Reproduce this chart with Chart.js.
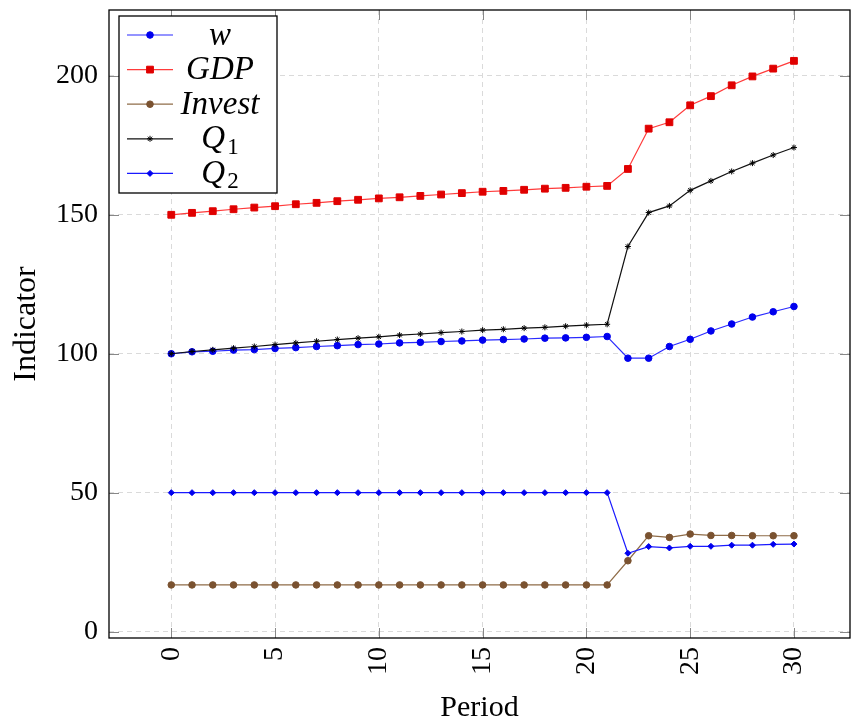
<!DOCTYPE html>
<html>
<head>
<meta charset="utf-8">
<script src="https://cdn.jsdelivr.net/npm/chart.js@4.4.1/dist/chart.umd.min.js"></script>
<style>
  html, body { margin: 0; padding: 0; background: #fff; }
  #wrap { width: 851px; height: 727px; }
</style>
</head>
<body>
<div id="wrap"><canvas id="chart" width="851" height="727"></canvas></div>
<script>
// values
const periods = [0, 1, 2, 3, 4, 5, 6, 7, 8, 9, 10, 11, 12, 13, 14, 15, 16, 17, 18, 19, 20, 21, 22, 23, 24, 25, 26, 27, 28, 29, 30];
const wValues = [100, 100.7, 100.9, 101.3, 101.5, 101.9, 102.2, 102.6, 102.9, 103.3, 103.5, 103.9, 104.1, 104.4, 104.6, 104.9, 105.1, 105.3, 105.6, 105.7, 105.9, 106.2, 98.4, 98.4, 102.6, 105.2, 108.2, 110.7, 113.2, 115.1, 117.0];
const gdpValues = [150, 150.7, 151.3, 152.0, 152.6, 153.1, 153.8, 154.3, 154.9, 155.4, 155.9, 156.3, 156.8, 157.3, 157.8, 158.3, 158.6, 159.0, 159.4, 159.7, 160.1, 160.4, 166.5, 181.0, 183.3, 189.4, 192.7, 196.6, 199.8, 202.6, 205.4];
const investValues = [16.8, 16.8, 16.8, 16.8, 16.8, 16.8, 16.8, 16.8, 16.8, 16.8, 16.8, 16.8, 16.8, 16.8, 16.8, 16.8, 16.8, 16.8, 16.8, 16.8, 16.8, 16.8, 25.5, 34.5, 33.9, 35.1, 34.6, 34.6, 34.5, 34.5, 34.5];
const q1Values = [100, 100.8, 101.4, 102.0, 102.6, 103.3, 103.9, 104.5, 105.1, 105.6, 106.1, 106.7, 107.1, 107.6, 108.0, 108.5, 108.8, 109.2, 109.5, 109.9, 110.3, 110.6, 138.6, 150.8, 153.2, 158.8, 162.2, 165.6, 168.6, 171.5, 174.2];
const q2Values = [50, 50, 50, 50, 50, 50, 50, 50, 50, 50, 50, 50, 50, 50, 50, 50, 50, 50, 50, 50, 50, 50, 28.2, 30.6, 30.1, 30.7, 30.7, 31.1, 31.1, 31.4, 31.5];

const xTicks = [0, 5, 10, 15, 20, 25, 30];
const yTicks = [0, 50, 100, 150, 200];

const seriesNames = ['w', 'GDP', 'Invest', 'Q', 'Q'];
const seriesSubs = ['', '', '', '1', '2'];

const SERIF = "'Liberation Serif', 'DejaVu Serif', serif";
Chart.defaults.font.family = SERIF;
Chart.defaults.color = '#000';

function toPoints(vals) {
  return periods.map((p, i) => ({ x: p, y: vals[i] }));
}

function series(i, vals, line, point, style, radius, order) {
  return {
    label: seriesNames[i],
    sub: seriesSubs[i],
    data: toPoints(vals),
    borderColor: line,
    backgroundColor: point,
    pointBackgroundColor: point,
    pointBorderColor: point,
    borderWidth: 1.2,
    pointStyle: style,
    pointRadius: radius,
    pointBorderWidth: 1,
    pointHoverRadius: radius,
    tension: 0,
    order: order
  };
}

// frame and inward tick marks like the original plot
const framePlugin = {
  id: 'frame',
  afterDatasetsDraw(chart) {
    const { ctx, chartArea: a, scales } = chart;
    ctx.save();
    ctx.strokeStyle = '#888';
    ctx.lineWidth = 1;
    ctx.beginPath();
    xTicks.forEach(v => {
      const px = Math.round(scales.x.getPixelForValue(v)) + 0.5;
      ctx.moveTo(px, a.bottom); ctx.lineTo(px, a.bottom - 10);
      ctx.moveTo(px, a.top); ctx.lineTo(px, a.top + 10);
    });
    yTicks.forEach(v => {
      const py = Math.round(scales.y.getPixelForValue(v)) + 0.5;
      ctx.moveTo(a.left, py); ctx.lineTo(a.left + 10, py);
      ctx.moveTo(a.right, py); ctx.lineTo(a.right - 10, py);
    });
    ctx.stroke();
    ctx.strokeStyle = '#000';
    ctx.lineWidth = 1.3;
    ctx.strokeRect(a.left, a.top, a.right - a.left, a.bottom - a.top);
    ctx.restore();
  }
};

// legend box in the upper left corner of the plot
const legendPlugin = {
  id: 'boxLegend',
  afterDraw(chart) {
    const { ctx, chartArea: a } = chart;
    const bx = a.left + 10, by = a.top + 6, bw = 158, bh = 177;
    const rowH = 34.6;
    ctx.save();
    ctx.fillStyle = '#fff';
    ctx.fillRect(bx, by, bw, bh);
    ctx.strokeStyle = '#000';
    ctx.lineWidth = 1.3;
    ctx.strokeRect(bx, by, bw, bh);
    chart.data.datasets.forEach((ds, i) => {
      const cy = by + 19 + i * rowH;
      ctx.strokeStyle = ds.borderColor;
      ctx.lineWidth = 1.2;
      ctx.beginPath();
      ctx.moveTo(bx + 8, cy);
      ctx.lineTo(bx + 54, cy);
      ctx.stroke();
      ctx.fillStyle = ds.pointBackgroundColor;
      ctx.strokeStyle = ds.pointBorderColor;
      ctx.lineWidth = 1;
      Chart.helpers.drawPoint(ctx, { pointStyle: ds.pointStyle, radius: ds.pointRadius, rotation: 0, borderWidth: 1 }, bx + 31, cy);
      // label
      ctx.fillStyle = '#000';
      ctx.textBaseline = 'middle';
      ctx.font = 'italic 33px ' + SERIF;
      const mainW = ctx.measureText(ds.label).width;
      ctx.font = '23px ' + SERIF;
      const subW = ds.sub ? ctx.measureText(ds.sub).width + 2 : 0;
      const cx = bx + 101;
      let tx = cx - (mainW + subW) / 2;
      ctx.textAlign = 'left';
      ctx.font = 'italic 33px ' + SERIF;
      ctx.fillText(ds.label, tx, cy + 1);
      if (ds.sub) {
        ctx.font = '23px ' + SERIF;
        ctx.fillText(ds.sub, tx + mainW + 2, cy + 9);
      }
    });
    ctx.restore();
  }
};

function noPad(s) {
  s.paddingTop = 0;
  s.paddingBottom = 0;
  s.paddingLeft = 0;
  s.paddingRight = 0;
}

new Chart(document.getElementById('chart').getContext('2d'), {
  type: 'line',
  data: {
    datasets: [
      series(0, wValues, '#2a2aff', '#0000ee', 'circle', 3.3, 5),
      series(1, gdpValues, '#ff3b3b', '#e00000', 'rect', 4.8, 4),
      series(2, investValues, '#8f6c48', '#7a5230', 'circle', 3.3, 3),
      series(3, q1Values, '#111', '#000', 'star', 3, 2),
      series(4, q2Values, '#1a1aff', '#0000ee', 'rectRot', 3, 1)
    ]
  },
  options: {
    responsive: false,
    animation: false,
    layout: { autoPadding: false, padding: { top: 10, right: 1, left: 0, bottom: 0 } },
    plugins: {
      legend: { display: false },
      tooltip: { enabled: false }
    },
    scales: {
      x: {
        type: 'linear',
        min: -3,
        max: 32.7,
        afterBuildTicks: s => { s.ticks = xTicks.map(v => ({ value: v })); },
        afterFit: s => { s.height = 89; noPad(s); },
        grid: { color: '#dadada', lineWidth: 1, drawTicks: false },
        border: { display: false, dash: [5, 4] },
        ticks: {
          minRotation: 90,
          maxRotation: 90,
          padding: 9,
          font: { size: 28 },
          color: '#000'
        },
        title: {
          display: true,
          text: 'Period',
          font: { size: 30 },
          color: '#000',
          padding: { top: 0, bottom: 1 }
        }
      },
      y: {
        type: 'linear',
        min: -2.3,
        max: 223.7,
        afterBuildTicks: s => { s.ticks = yTicks.map(v => ({ value: v })); },
        afterFit: s => { s.width = 109; noPad(s); },
        grid: { color: '#dadada', lineWidth: 1, drawTicks: false },
        border: { display: false, dash: [5, 4] },
        ticks: {
          padding: 11,
          font: { size: 28 },
          color: '#000'
        },
        title: {
          display: true,
          text: 'Indicator',
          font: { size: 32 },
          color: '#000',
          padding: { top: 7, bottom: 0 }
        }
      }
    }
  },
  plugins: [framePlugin, legendPlugin]
});
</script>
</body>
</html>
